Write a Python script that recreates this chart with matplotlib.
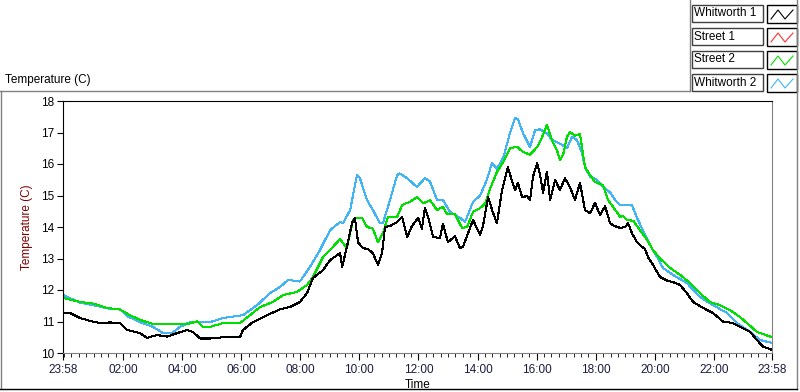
import matplotlib
matplotlib.use("Agg")
import matplotlib.pyplot as plt
from matplotlib.lines import Line2D
from matplotlib.patches import Rectangle

plt.rcParams["font.family"] = ["Liberation Sans", "DejaVu Sans"]

# hours since 23:58 (start of record) and temperature in C
whitworth1_t = [0, 0.24, 0.58, 0.91, 1.25, 1.59, 1.93, 2.17, 2.61, 2.84, 3.18, 3.52, 3.86, 4.20,
                4.40, 4.64, 4.98, 5.42, 5.99, 6.09, 6.43, 6.91, 7.35, 7.68, 8.02, 8.26, 8.46,
                8.80, 9.04, 9.38, 9.45, 9.61, 9.78, 9.88, 9.99, 10.16, 10.32, 10.49, 10.66,
                10.80, 10.90, 11.07, 11.31, 11.48, 11.65, 11.81, 12.02, 12.15, 12.25, 12.36,
                12.53, 12.76, 12.86, 13.03, 13.27, 13.44, 13.54, 13.71, 13.88, 14.12, 14.22,
                14.39, 14.56, 14.69, 14.86, 15.06, 15.20, 15.30, 15.40, 15.54, 15.71, 15.81,
                15.91, 16.05, 16.15, 16.25, 16.38, 16.49, 16.66, 16.82, 16.99, 17.16, 17.33,
                17.50, 17.67, 17.84, 18.01, 18.18, 18.35, 18.52, 18.62, 18.86, 19.03, 19.13,
                19.26, 19.43, 19.60, 19.70, 19.80, 19.97, 20.21, 20.45, 20.65, 20.89, 21.12,
                21.33, 21.67, 22.00, 22.34, 22.68, 22.92, 23.26, 23.49, 23.70, 24.00]
whitworth1_v = [11.27, 11.27, 11.11, 11.02, 10.95, 10.97, 10.95, 10.73, 10.63, 10.48, 10.57,
                10.52, 10.63, 10.73, 10.67, 10.46, 10.46, 10.50, 10.50, 10.73, 10.98, 11.20,
                11.39, 11.46, 11.62, 11.90, 12.38, 12.63, 12.95, 13.17, 12.73, 13.37, 14.12,
                14.29, 13.50, 13.33, 13.30, 13.17, 12.80, 13.17, 14.00, 14.03, 14.16, 14.32,
                13.68, 14.03, 14.29, 13.95, 14.60, 14.32, 13.68, 13.65, 14.10, 13.52, 13.70,
                13.33, 13.37, 13.80, 14.22, 13.75, 14.05, 14.95, 14.44, 14.12, 15.17, 15.90,
                15.45, 15.17, 15.40, 14.95, 14.98, 14.86, 15.60, 16.03, 15.66, 15.08, 15.75,
                14.86, 15.50, 15.17, 15.55, 15.27, 14.86, 15.40, 14.54, 14.44, 14.76, 14.38,
                14.66, 14.12, 14.05, 13.97, 14.00, 14.12, 13.80, 13.52, 13.37, 13.30, 13.05,
                12.80, 12.41, 12.30, 12.25, 12.16, 11.90, 11.62, 11.43, 11.27, 11.00, 10.95,
                10.83, 10.67, 10.41, 10.20, 10.10]

street1_t = []
street1_v = []

street2_t = [0, 0.58, 1.02, 1.49, 1.93, 2.27, 2.61, 3.05, 3.62, 4.20, 4.54, 4.74, 4.98, 5.42,
             5.99, 6.33, 6.67, 7.11, 7.45, 7.92, 8.26, 8.46, 8.80, 9.14, 9.38, 9.61, 9.82,
             9.95, 10.12, 10.29, 10.49, 10.66, 10.83, 11.00, 11.31, 11.48, 11.75, 11.98,
             12.19, 12.42, 12.66, 12.86, 13.00, 13.27, 13.51, 13.68, 13.88, 14.12, 14.29,
             14.45, 14.69, 14.90, 15.13, 15.37, 15.57, 15.81, 16.05, 16.22, 16.38, 16.55,
             16.72, 16.82, 16.93, 17.06, 17.16, 17.33, 17.50, 17.67, 17.84, 18.01, 18.28,
             18.45, 18.62, 18.86, 18.96, 19.09, 19.30, 19.53, 19.77, 19.97, 20.21, 20.55,
             20.89, 21.23, 21.56, 21.90, 22.24, 22.58, 22.92, 23.15, 23.49, 23.70, 24.00]
street2_v = [11.75, 11.62, 11.57, 11.43, 11.38, 11.20, 11.05, 10.92, 10.92, 10.92, 11.00,
             10.83, 10.83, 10.95, 10.95, 11.20, 11.46, 11.62, 11.84, 11.94, 12.16, 12.41,
             13.05, 13.37, 13.62, 13.33, 14.22, 14.30, 14.30, 14.00, 13.95, 13.52, 13.80,
             14.32, 14.32, 14.70, 14.80, 14.95, 14.75, 14.85, 14.54, 14.64, 14.41, 14.40,
             13.97, 14.00, 14.48, 14.60, 14.75, 15.20, 15.75, 16.06, 16.50, 16.55, 16.38,
             16.30, 16.54, 16.86, 17.24, 16.76, 16.44, 16.13, 16.30, 16.86, 17.02, 16.90,
             16.95, 15.90, 15.65, 15.43, 15.33, 14.86, 14.64, 14.32, 14.35, 14.22, 14.20,
             13.90, 13.59, 13.27, 13.00, 12.70, 12.48, 12.22, 11.90, 11.62, 11.52, 11.36,
             11.14, 10.95, 10.67, 10.60, 10.50]

whitworth2_t = [0, 0.58, 1.02, 1.59, 1.93, 2.17, 2.61, 3.05, 3.39, 3.72, 3.96, 4.30, 4.98,
                5.42, 6.09, 6.57, 7.01, 7.35, 7.62, 8.02, 8.36, 8.70, 9.04, 9.38, 9.48, 9.72,
                9.95, 10.05, 10.29, 10.49, 10.73, 10.83, 11.07, 11.31, 11.41, 11.65, 11.98,
                12.25, 12.42, 12.66, 12.86, 13.10, 13.44, 13.61, 13.88, 14.12, 14.35, 14.52,
                14.69, 14.90, 15.13, 15.30, 15.40, 15.57, 15.81, 15.98, 16.15, 16.38, 16.55,
                16.82, 17.06, 17.23, 17.40, 17.57, 17.67, 17.84, 18.08, 18.28, 18.52, 18.69,
                18.86, 19.26, 19.43, 19.63, 19.87, 20.11, 20.31, 20.65, 21.12, 21.56, 22.00,
                22.48, 22.82, 23.26, 23.60, 24.00]
whitworth2_v = [11.84, 11.60, 11.52, 11.40, 11.40, 11.17, 10.98, 10.83, 10.63, 10.65, 10.83,
                10.98, 10.98, 11.11, 11.20, 11.52, 11.90, 12.10, 12.32, 12.27, 12.73, 13.27,
                13.90, 14.16, 14.12, 14.54, 15.65, 15.55, 14.86, 14.54, 14.12, 14.12, 14.86,
                15.65, 15.70, 15.55, 15.27, 15.55, 15.45, 14.86, 14.86, 14.48, 14.29, 14.16,
                14.80, 15.00, 15.50, 16.03, 15.85, 16.19, 16.98, 17.46, 17.43, 16.98, 16.54,
                17.08, 17.10, 16.98, 16.76, 16.65, 16.50, 16.86, 16.76, 16.35, 15.90, 15.60,
                15.50, 15.27, 15.10, 14.86, 14.70, 14.70, 14.29, 13.90, 13.43, 13.05, 12.70,
                12.48, 12.22, 11.78, 11.52, 11.27, 10.95, 10.67, 10.41, 10.32]

series_names = ["Whitworth 1", "Street 1", "Street 2", "Whitworth 2"]
series_colors = ["#000000", "#ff3030", "#00e000", "#40b4f4"]

tick_pos = [0] + [2 + 2 / 60 + 2 * i for i in range(11)] + [24]
tick_labels = ["23:58", "02:00", "04:00", "06:00", "08:00", "10:00", "12:00",
               "14:00", "16:00", "18:00", "20:00", "22:00", "23:58"]

W, H = 800, 392
FS = 8.5


def fx(x):
    return x / W


def fy(y):
    return 1 - y / H


fig = plt.figure(figsize=(8, 3.92), dpi=100)
fig.patch.set_facecolor("white")
ax = fig.add_axes([fx(63), fy(353), fx(772) - fx(63), fy(101) - fy(353)])

data = [(whitworth1_t, whitworth1_v), (street1_t, street1_v),
        (street2_t, street2_v), (whitworth2_t, whitworth2_v)]
# draw order: street 2 and whitworth 2 behind whitworth 1
for idx in [3, 2, 1, 0]:
    t, v = data[idx]
    ax.plot(t, v, color=series_colors[idx], lw=0.75, antialiased=False)

ax.set_xlim(0, 24)
ax.set_ylim(10, 18)
ax.set_xticks(tick_pos)
ax.set_xticklabels(tick_labels)
ax.set_xticks([2 / 60 + 0.25 * i for i in range(96)], minor=True)
ax.set_yticks(range(10, 19))
ax.tick_params(axis="both", labelsize=FS, colors="black", direction="out")
ax.tick_params(axis="x", which="major", length=5, labelcolor="#1a1a40", pad=3)
ax.tick_params(axis="x", which="minor", length=3)
ax.tick_params(axis="y", length=4, pad=2)

ax.spines["left"].set_color("black")
ax.spines["top"].set_color("black")
ax.spines["bottom"].set_color("#808080")
ax.spines["right"].set_color("#808080")

ax.set_xlabel("Time", fontsize=FS)
ax.xaxis.set_label_coords(0.5, -0.105)
ax.set_ylabel("Temperature (C)", fontsize=FS, color="#800000")
ax.yaxis.set_label_coords(-0.042, 0.5)

fig.text(fx(5), fy(80), "Temperature (C)", fontsize=FS, va="center", ha="left")

# outer panel frame
frame = [((1, 1), (91, 389), "#808080"),
         ((0, 690), (91, 91), "#808080"),
         ((690, 690), (0, 91), "#808080"),
         ((797, 797), (0, 389), "#808080"),
         ((0, 797), (389, 389), "black")]
for xs, ys, c in frame:
    fig.add_artist(Line2D([fx(xs[0]), fx(xs[1])], [fy(ys[0]), fy(ys[1])],
                          color=c, lw=1, transform=fig.transFigure))

# LabVIEW style legend
for i, name in enumerate(series_names):
    top = 5 + i * 23
    fig.add_artist(Rectangle((fx(692), fy(top + 17)), fx(763) - fx(692), fy(top) - fy(top + 17),
                             transform=fig.transFigure, fill=False, ec="#404040", lw=1))
    fig.text(fx(694), fy(top + 8.5), name, fontsize=FS, va="center", ha="left")
    fig.add_artist(Rectangle((fx(767), fy(top + 18)), fx(797) - fx(767), fy(top) - fy(top + 18),
                             transform=fig.transFigure, fc="white", ec="black", lw=1))
    zx = [771, 778, 785, 793]
    zy = [top + 14, top + 5, top + 14, top + 5]
    fig.add_artist(Line2D([fx(x) for x in zx], [fy(y) for y in zy],
                          color=series_colors[i], lw=0.8, transform=fig.transFigure))

fig.savefig("out.png", dpi=100, facecolor="white")
